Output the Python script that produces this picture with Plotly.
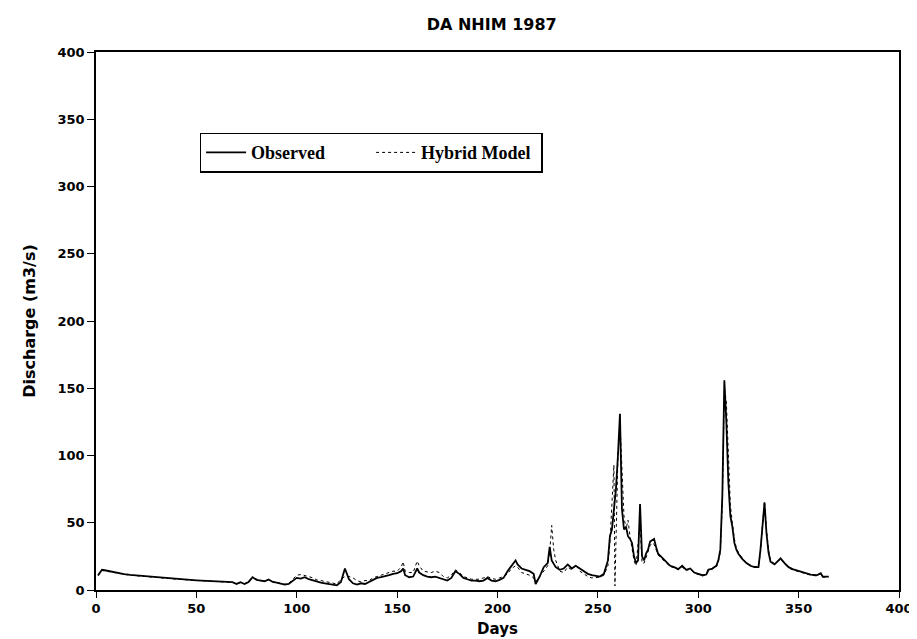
import plotly.graph_objects as go

# ---- data ----
obs_days = [1, 3, 5, 8, 11, 14, 17, 20, 23, 26, 29, 32, 35, 38, 41, 44, 47, 50, 53, 56, 59, 62, 65, 68, 70, 72, 74, 76, 78, 80,
            82, 84, 86, 88, 90, 92, 94, 96, 98, 100, 102, 104, 106, 108, 110, 112, 114, 116, 118, 120, 122, 124, 126, 128, 130,
            132, 134, 136, 138, 140, 142, 144, 146, 148, 150, 152, 153, 154, 156, 158, 160, 161, 163, 165, 167, 169, 171, 173,
            175, 177, 179, 181, 183, 185, 187, 189, 191, 193, 195, 197, 199, 201, 203, 205, 207, 209, 210, 212, 214, 216, 218,
            219, 221, 223, 225, 226, 227, 229, 231, 233, 235, 237, 239, 241, 243, 245, 247, 249, 251, 253, 255, 256, 257, 258,
            259, 260, 261, 262, 263, 264, 265, 266, 267, 268, 269, 270, 271, 272, 273, 274, 275, 276, 277, 278, 279, 280, 282,
            284, 286, 288, 290, 292, 294, 296, 298, 300, 302, 304, 305, 307, 309, 310, 311, 312, 313, 314, 315, 316, 317, 318,
            319, 320, 322, 324, 326, 328, 330, 331, 332, 333, 334, 335, 336, 338, 340, 341, 343, 345, 347, 350, 353, 356, 359,
            361, 362, 364, 365]
obs_vals = [11, 15, 14.5, 13.5, 12.5, 11.8, 11.2, 10.8, 10.5, 10, 9.5, 9, 8.7, 8.4, 8, 7.8, 7.5, 7.2, 7, 6.8, 6.5, 6.3, 6.1, 5.8,
            4.5, 5.8, 4.5, 6, 9.5, 7.5, 7, 6.5, 7.8, 6, 5.5, 4.5, 4, 4.5, 7, 9, 8.5, 9.5, 8, 7, 6, 5.5, 5, 4.5, 4, 3.5, 6, 16, 8,
            5, 4, 5, 4.5, 6, 8, 9, 9.5, 10, 11, 12, 12.5, 14, 16, 11, 9.5, 10, 16, 13, 11, 10, 9.5, 10, 9, 7.5, 7, 9, 14, 12, 9, 8,
            7, 7, 6.5, 7, 9, 7, 6.5, 7.5, 9, 14, 18, 22, 19, 16, 15, 14, 12, 4.5, 10, 17, 20, 32, 22, 17, 15, 16, 19, 16, 18, 16,
            14, 12, 11, 10.5, 10, 12, 22, 40, 45, 60, 75, 100, 131, 60, 45, 47, 40, 38, 35, 25, 20, 22, 64, 25, 22, 27, 30, 36, 37,
            38, 32, 27, 24, 21, 18, 17, 15.5, 18, 15, 16, 13, 12, 11, 11.5, 15, 16, 18, 22, 30, 70, 156, 125, 80, 55, 47, 35, 30,
            27, 23, 20, 18, 17, 17, 30, 50, 65, 42, 28, 21, 19, 22, 23.5, 20, 17, 15.5, 14, 12.5, 11.5, 11, 12.5, 10, 10, 10]

hyb_days = [1, 3, 5, 8, 11, 14, 17, 20, 23, 26, 29, 32, 35, 38, 41, 44, 47, 50, 53, 56, 59, 62, 65, 68, 70, 72, 74, 76, 78, 80,
            82, 84, 86, 88, 90, 92, 94, 96, 98, 100, 102, 104, 106, 108, 110, 112, 114, 116, 118, 120, 122, 124, 126, 128, 130,
            132, 134, 136, 138, 140, 142, 144, 146, 148, 150, 152, 153, 154, 156, 158, 160, 161, 163, 165, 167, 169, 171, 173,
            175, 177, 179, 181, 183, 185, 187, 189, 191, 193, 195, 197, 199, 201, 203, 205, 207, 209, 210, 212, 214, 216, 218,
            219, 221, 223, 225, 226, 227, 228, 229, 231, 233, 235, 237, 239, 241, 243, 245, 247, 249, 251, 253, 255, 256, 257,
            258, 258.5, 259, 260, 261, 262, 263, 264, 265, 266, 267, 268, 269, 270, 271, 272, 273, 274, 275, 276, 277, 278, 279,
            280, 282, 284, 286, 288, 290, 292, 294, 296, 298, 300, 302, 304, 305, 307, 309, 310, 311, 312, 313, 314, 315, 316,
            317, 318, 319, 320, 322, 324, 326, 328, 330, 331, 332, 333, 334, 335, 336, 338, 340, 341, 343, 345, 347, 350, 353,
            356, 359, 361, 362, 364, 365]
hyb_vals = [10.5, 14.5, 14, 13.2, 12.3, 11.6, 11, 10.6, 10.3, 9.8, 9.4, 8.9, 8.6, 8.3, 7.9, 7.6, 7.4, 7.1, 6.9, 6.6, 6.4, 6.2,
            6, 5.6, 4.8, 5.5, 4.8, 6.2, 9, 7.8, 7.2, 6.8, 7.5, 6.3, 5.8, 4.8, 4.3, 5, 8, 11, 11.5, 11, 10, 9, 7.5, 7, 6.5, 6, 5.5,
            4.5, 8, 10, 10, 9, 7, 6, 7, 7, 9, 10, 11, 12, 13, 14, 14, 17, 21, 14, 13, 13, 21.5, 18, 14, 13.5, 13, 14, 13, 10, 9,
            11, 15, 13, 10, 9, 8, 8, 8, 9, 10, 8.5, 8, 9, 10, 12, 16, 18, 17, 13, 12, 11, 9, 6, 10, 14, 18, 28, 48, 30, 22, 14, 13,
            17, 15, 19, 14, 12, 10, 9, 9, 9.5, 11, 18, 35, 60, 93, 3, 40, 100, 125, 90, 55, 45, 52, 40, 30, 22, 18, 35, 50, 20, 20,
            24, 28, 33, 35, 34, 30, 26, 23, 20, 17.5, 16.5, 15, 17, 14.5, 15.5, 12.5, 11.5, 10.5, 11, 14, 15.5, 17, 21, 28, 65,
            150, 140, 95, 63, 50, 38, 31, 28, 23.5, 20.5, 18.5, 17.5, 17.5, 28, 48, 66, 45, 30, 22, 19.5, 21.5, 23, 19.5, 16.5, 15,
            13.5, 12, 11, 10.5, 12, 9.5, 9.5, 9.5]

x_ticks = [0, 50, 100, 150, 200, 250, 300, 350, 400]
y_ticks = [0, 50, 100, 150, 200, 250, 300, 350, 400]

fig = go.Figure()
fig.add_trace(go.Scatter(x=obs_days, y=obs_vals, mode="lines", name="Observed",
                         line=dict(color="black", width=1.8)))
fig.add_trace(go.Scatter(x=hyb_days, y=hyb_vals, mode="lines", name="Hybrid Model",
                         line=dict(color="black", width=1, dash="dot")))

sans = "DejaVu Sans"
tickfont = dict(family=sans, size=13, color="black", weight="bold")
fig.update_layout(
    width=917, height=639,
    paper_bgcolor="white", plot_bgcolor="white",
    margin=dict(l=88, r=24, t=44, b=57, pad=0),
    title=dict(text="DA NHIM 1987", x=0.5275, xanchor="center", y=0.975, yanchor="middle",
               font=dict(family=sans, size=16, color="black", weight="bold")),
    showlegend=True,
    legend=dict(orientation="h", x=0.129, xanchor="left", y=0.85, yanchor="top",
                bgcolor="white", bordercolor="black", borderwidth=1.5,
                font=dict(family="Liberation Serif", size=18, color="black", weight="bold"),
                itemwidth=40, entrywidth=115, tracegroupgap=0),
    xaxis=dict(range=[0, 400], tickvals=x_ticks, ticktext=[str(v) for v in x_ticks],
               showline=True, linecolor="black", linewidth=1.5, mirror=True,
               ticks="outside", ticklen=6, tickwidth=1.2, tickcolor="black",
               showgrid=False, zeroline=False, tickfont=tickfont,
               title=dict(text="Days", standoff=8,
                          font=dict(family=sans, size=15, color="black", weight="bold"))),
    yaxis=dict(range=[0, 400], tickvals=y_ticks, ticktext=[str(v) for v in y_ticks],
               showline=True, linecolor="black", linewidth=1.5, mirror=True,
               ticks="outside", ticklen=7, tickwidth=1.2, tickcolor="black",
               showgrid=False, zeroline=False, tickfont=tickfont,
               title=dict(text="Discharge (m3/s)", standoff=18,
                          font=dict(family=sans, size=16, color="black", weight="bold"))),
)

fig.write_html("out.html")
